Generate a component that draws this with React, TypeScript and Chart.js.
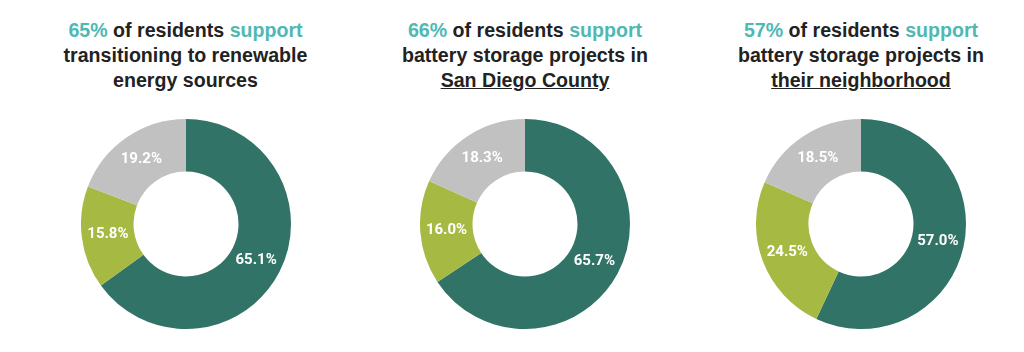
import React, { useEffect, useRef } from "react";
import { Chart, registerables } from "chart.js";

Chart.register(...registerables);

const categories = ["Support", "Oppose", "Not sure"];
const renewableValues = [65.1, 15.8, 19.2];
const countyValues = [65.7, 16.0, 18.3];
const neighborhoodValues = [57.0, 24.5, 18.5];

const headlinePercents = ["65%", "66%", "57%"];
const titleLine2 = ["transitioning to renewable", "battery storage projects in", "battery storage projects in"];
const titleLine3 = ["energy sources", "San Diego County", "their neighborhood"];
const titleUnderlined = [false, true, true];

const sliceColors = ["#317367", "#a6b943", "#c1c1c1"];
const TEAL = "#4fb8b2";
const DARK = "#222222";

const centers = [
  { x: 185.5, y: 223.5 },
  { x: 525, y: 223.5 },
  { x: 861, y: 224 },
];
const RADIUS = 105;

const labelPlugin = {
  id: "sliceLabels",
  afterDatasetsDraw(chart: any) {
    const ctx = chart.ctx;
    const meta = chart.getDatasetMeta(0);
    const data = chart.data.datasets[0].data as number[];
    ctx.save();
    ctx.fillStyle = "#ffffff";
    ctx.font = "bold 15px Roboto";
    ctx.textAlign = "center";
    ctx.textBaseline = "middle";
    meta.data.forEach((arc: any, i: number) => {
      const p = arc.tooltipPosition();
      ctx.fillText(data[i].toFixed(1) + "%", p.x, p.y);
    });
    ctx.restore();
  },
};

function Donut({ values, cx, cy }: { values: number[]; cx: number; cy: number }) {
  const ref = useRef<HTMLCanvasElement | null>(null);
  useEffect(() => {
    if (!ref.current) return;
    const chart = new Chart(ref.current, {
      type: "doughnut",
      data: {
        labels: categories,
        datasets: [
          {
            data: values,
            backgroundColor: sliceColors,
            borderWidth: 0,
          },
        ],
      },
      options: {
        responsive: false,
        animation: false,
        cutout: "50%",
        layout: { padding: 0 },
        plugins: {
          legend: { display: false },
          tooltip: { enabled: false },
          title: { display: false },
        },
      },
      plugins: [labelPlugin],
    });
    return () => chart.destroy();
  }, [values]);
  return (
    <canvas
      ref={ref}
      width={RADIUS * 2}
      height={RADIUS * 2}
      style={{
        position: "absolute",
        left: cx - RADIUS,
        top: cy - RADIUS,
        width: RADIUS * 2,
        height: RADIUS * 2,
      }}
    />
  );
}

export default function App() {
  const allValues = [renewableValues, countyValues, neighborhoodValues];
  return (
    <div
      style={{
        position: "absolute",
        left: 0,
        top: 0,
        width: 1024,
        height: 352,
        background: "#ffffff",
        overflow: "hidden",
      }}
    >
      {centers.map((c, i) => (
        <div
          key={"t" + i}
          style={{
            position: "absolute",
            left: c.x - 170,
            top: 18,
            width: 340,
            textAlign: "center",
            fontFamily: "'Liberation Sans', Arial, sans-serif",
            fontWeight: "bold",
            fontSize: 19.6,
            lineHeight: "25px",
            color: DARK,
          }}
        >
          <div>
            <span style={{ color: TEAL }}>{headlinePercents[i]}</span> of residents{" "}
            <span style={{ color: TEAL }}>support</span>
          </div>
          <div>{titleLine2[i]}</div>
          <div>
            <span style={{ textDecoration: titleUnderlined[i] ? "underline" : "none" }}>
              {titleLine3[i]}
            </span>
          </div>
        </div>
      ))}
      {centers.map((c, i) => (
        <Donut key={"d" + i} values={allValues[i]} cx={c.x} cy={c.y} />
      ))}
    </div>
  );
}
